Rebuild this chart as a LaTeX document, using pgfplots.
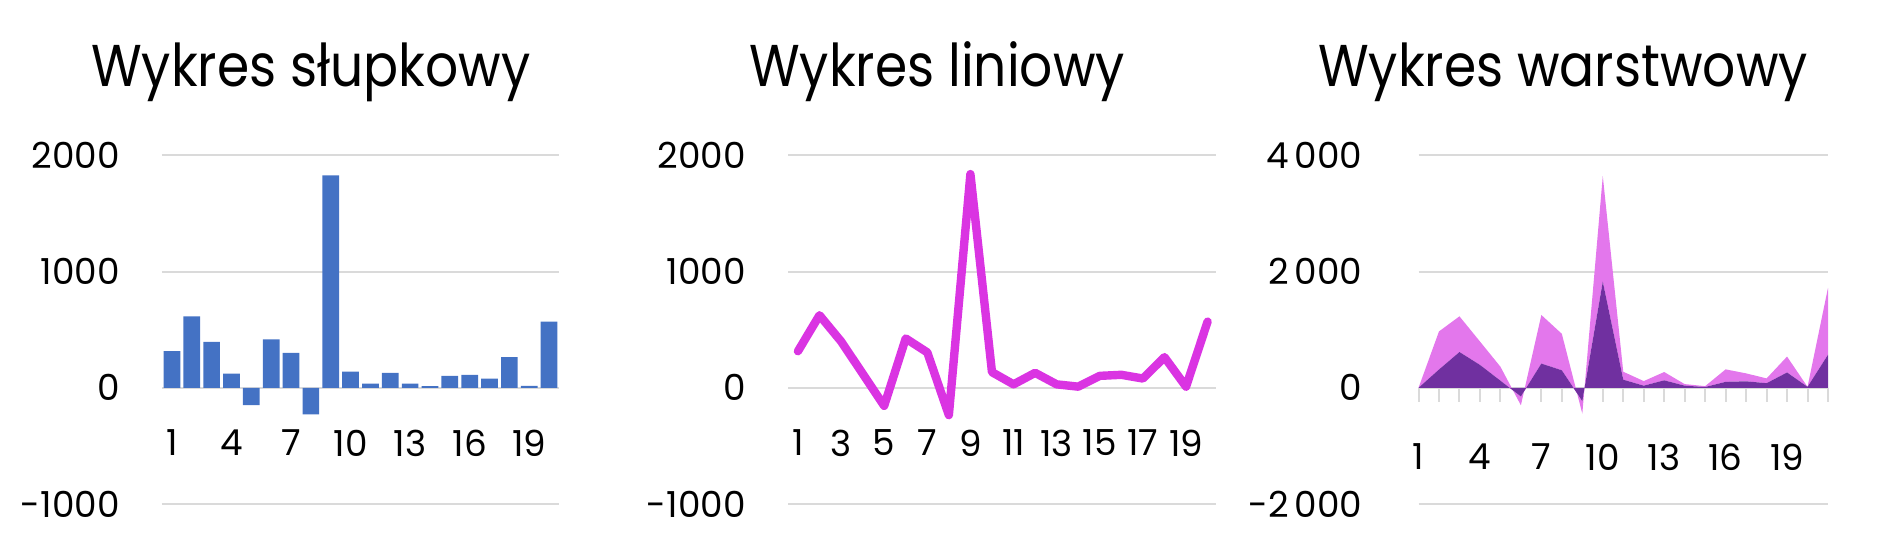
\documentclass[border=0pt]{standalone}
\usepackage{fontspec}
\setmainfont{Poppins}
\newfontfamily\titlefamily[FakeStretch=0.88]{Poppins}
\usepackage{pgfplots}
\pgfplotsset{compat=1.18}

\definecolor{barblue}{HTML}{4472C4}
\definecolor{linemag}{HTML}{DA34E2}
\definecolor{arealight}{HTML}{E377EC}
\definecolor{areadark}{HTML}{7030A0}
\definecolor{gridgray}{HTML}{DADADA}

\newcommand\tickfont{\fontsize{17.9}{20}\selectfont}
\newcommand\titlefont{\titlefamily\fontsize{29.5}{32}\selectfont}

% 1px of the reference = 0.5pt
\pgfplotsset{
  panel/.style={
    scale only axis, height=174.25pt, anchor=south west,
    axis x line*=middle, axis y line*=left,
    axis line style={draw=none},
    hide obscured x ticks=false, hide obscured y ticks=false,
    ymajorgrids, grid style={gridgray, line width=1pt},
    ytick style={draw=none},
    yticklabel style={anchor=east, inner sep=0pt, xshift=-21pt, font=\tickfont},
    xticklabel style={anchor=center, inner sep=0pt, yshift=-27.6pt, font=\tickfont},
    enlargelimits=false,
  }
}

\begin{document}
\begin{tikzpicture}
\path[use as bounding box] (0,0) rectangle (940pt,272pt);

\node[anchor=base, font=\titlefont] at (155.5pt,228.6pt) {Wykres słupkowy};
\node[anchor=base, font=\titlefont] at (468.5pt,228.6pt) {Wykres liniowy};
\node[anchor=base, font=\titlefont] at (781.5pt,228.6pt) {Wykres warstwowy};

% bar chart
\begin{axis}[panel, at={(81pt,20pt)}, width=198.5pt,
  xmin=0.5, xmax=20.5, ymin=-1000, ymax=2000,
  ytick={-1000,0,1000,2000}, yticklabels={-1000,0,1000,2000},
  xtick={1,4,...,19}, xticklabels={1,4,7,10,13,16,19},
  xtick style={draw=none}]
\addplot[ybar, bar width=0.84, fill=barblue, draw=none] table {
x y
1 315
2 616
3 395
4 123
5 -149
6 418
7 301
8 -229
9 1828
10 140
11 37
12 129
13 37
14 14
15 103
16 112
17 80
18 264
19 17
20 570
};
\end{axis}

% line chart
\begin{axis}[panel, at={(394pt,20pt)}, width=214pt, clip=false,
  xmin=0.54, xmax=20.39, ymin=-1000, ymax=2000,
  ytick={-1000,0,1000,2000}, yticklabels={-1000,0,1000,2000},
  xtick={1,3,...,19}, xticklabels={1,3,5,7,9,11,13,15,17,19},
  xtick style={draw=none}]
\addplot[linemag, line width=4.2pt, line join=round, line cap=round] table {
x y
1 315
2 625
3 400
4 123
5 -155
6 425
7 305
8 -235
9 1840
10 135
11 30
12 129
13 30
14 10
15 103
16 112
17 80
18 264
19 10
20 570
};
\end{axis}

% stacked area chart
\begin{axis}[panel, at={(709.25pt,20pt)}, width=204.75pt, stack plots=y,
  xmin=1, xmax=21, ymin=-2000, ymax=4000,
  ytick={-2000,0,2000,4000}, yticklabels={-2\,000,0,2\,000,4\,000},
  xtick={1,...,21}, xticklabels={1,,,4,,,7,,,10,,,13,,,16,,,19,,},
  tick align=outside, major tick length=7pt,
  xtick style={gridgray, line width=1pt}]
\addplot[fill=areadark, draw=none] table {
x y
1 0
2 315
3 616
4 395
5 123
6 -149
7 418
8 301
9 -229
10 1828
11 140
12 37
13 129
14 37
15 14
16 103
17 112
18 80
19 264
20 17
21 570
} \closedcycle;
\addplot[fill=arealight, draw=none] table {
x y
1 0
2 656
3 615
4 403
5 241
6 -151
7 836
8 629
9 -216
10 1819
11 137
12 79
13 143
14 27
15 15
16 215
17 137
18 82
19 274
20 0
21 1153
} \closedcycle;
\end{axis}
\end{tikzpicture}
\end{document}
